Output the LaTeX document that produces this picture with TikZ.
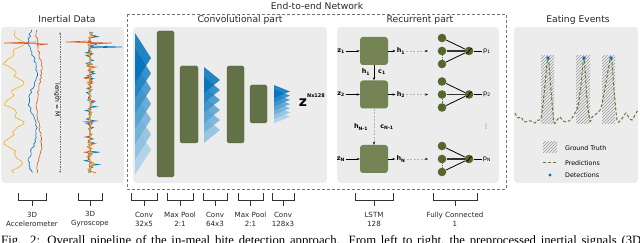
\documentclass[tikz,border=0pt]{standalone}
\usepackage{fontspec}
\setmainfont{DejaVu Sans}
\newfontfamily\capfont{Liberation Serif}
\usepackage{tikz}
\usetikzlibrary{arrows.meta, patterns}
\usepackage{xcolor}
\definecolor{panelgray}{RGB}{236,236,236}
\definecolor{olivebar}{RGB}{99,114,70}
\definecolor{olivebox}{RGB}{116,132,84}
\definecolor{oliveneur}{RGB}{86,102,44}
\definecolor{mblue}{RGB}{0,114,189}
\definecolor{morange}{RGB}{217,83,25}
\definecolor{myellow}{RGB}{237,177,32}
\newcommand{\fsz}[1]{\fontsize{#1}{#1}\selectfont}
\newcommand{\layerbrace}[4]{% x1, x2, name, label
  \draw[brk] (#1,193) -- (#1,200) -- (#2,200) -- (#2,193);
  \draw[brk] ({(#1+#2)/2},200) -- ({(#1+#2)/2},206);
  \node[lbl] (#3) at ({(#1+#2)/2},219.5) {#4};}
\newcommand{\kernelstack}[6]{% x0, x1, top, height, step, last index
  \foreach \k in {#6,...,0} {
    \pgfmathtruncatemacro\shade{100-11*\k}
    \fill[mblue!\shade, fill opacity=0.85] (#1,{#3+\k*#5}) -- (#2,{#3+\k*#5+#4/2}) -- (#1,{#3+\k*#5+#4}) -- cycle;
  }}
\tikzset{
  panel/.style  ={fill=panelgray, rounded corners=4pt},
  netbox/.style ={draw=black!55, dash pattern=on 3pt off 2pt, line width=0.7pt},
  title/.style  ={font=\fsz{9.2}, text=black!85},
  lbl/.style    ={font=\fontsize{7.1}{9}\selectfont, align=center, text=black!85, inner sep=0pt},
  brk/.style    ={draw=black!80, line width=0.8pt},
  bar/.style    ={fill=olivebar, draw=olivebar!85!black, line width=0.3pt, rounded corners=1.5pt},
  lstm/.style   ={fill=olivebox, minimum size=28pt, inner sep=0pt, rounded corners=3pt},
  neur/.style   ={circle, fill=oliveneur, minimum size=8.6pt, inner sep=0pt},
  vlbl/.style   ={font=\fsz{6.5}\bfseries, inner sep=1pt},
  plbl/.style   ={font=\fsz{6.5}, inner sep=1pt},
  flow/.style   ={-{Stealth[length=3pt]}, line width=0.6pt},
  dflow/.style  ={-{Stealth[length=3pt, color=black]}, line width=0.6pt, draw=black!30, dash pattern=on 2pt off 1.5pt},
  fcw/.style    ={line width=0.8pt},
  sig/.style    ={line width=0.6pt},
  lenarr/.style ={{Stealth[length=2.5pt]}-{Stealth[length=2.5pt]}, draw=black!55, line width=0.5pt, dash pattern=on 1.5pt off 1pt},
  hatch/.style  ={pattern=north east lines, pattern color=black!40},
  pred/.style   ={draw=oliveneur!90, line width=1pt, dash pattern=on 3pt off 2pt},
  legt/.style   ={font=\fsz{6.3}, anchor=west, inner sep=0pt},
  capt/.style   ={font=\capfont\fsz{12.7}, inner sep=0pt},
}
\begin{document}
\begin{tikzpicture}[x=1pt, y=-1pt]
  \useasboundingbox (0,0) rectangle (640,243);

  % --- Inertial data ---
  \node[title] (tInertial) at (67,19) {Inertial Data};
  \fill[panel] (1,27) rectangle (124,183);
  \pgfmathsetseed{11}
  \draw[sig, myellow] plot[domain=30:173, samples=60] ({14+7*sin(9*\x+70)+3*sin(27*\x)+1.5*rand}, \x);
  \draw[sig, mblue]   plot[domain=30:173, samples=70] ({33+4*sin(6*\x+20)+1.2*rand}, \x);
  \draw[sig, morange] plot[domain=30:173, samples=70] ({39+2.5*sin(5*\x+100)+1*rand}, \x);
  \draw[sig, morange] (36,42) -- (4,43) -- (48,44) -- (38,45);
  \draw[sig, mblue]   plot[domain=32:173, samples=150] ({90+12*rand*rand*rand}, \x);
  \draw[sig, morange] plot[domain=32:173, samples=150] ({90+9*rand*rand*rand}, \x);
  \draw[sig, myellow] plot[domain=32:173, samples=150] ({90+7*rand*rand*rand}, \x);
  \draw[sig, morange] (90,41) -- (66,42) -- (112,43) -- (90,44);
  \draw[sig, mblue]   (90,46) -- (122,47) -- (88,48);
  \coordinate (lenTop) at (60,32);
  \coordinate (lenBot) at (60,173);
  \draw[lenarr] (lenTop) -- (lenBot);
  \node[font=\fsz{6}, rotate=-90, fill=panelgray, inner sep=0.5pt] (lenM) at (57,100) {length = M};
  \layerbrace{18}{46}{bAcc}{3D\\Accelerometer}
  \layerbrace{78}{102}{bGyr}{3D\\Gyroscope}

  % --- End-to-end network ---
  \node[title] (tNet) at (317,6) {End-to-end Network};
  \draw[netbox] (127,14) rectangle (506,189);

  % --- Convolutional part ---
  \node[title] (tConv) at (240,20) {Convolutional part};
  \fill[panel] (133,27) rectangle (327,183);
  \kernelstack{135}{151}{33}{50}{15.3}{6}
  \filldraw[bar] (157,31) rectangle (174,177);
  \filldraw[bar] (180,66) rectangle (198,143);
  \kernelstack{204}{220}{67}{26}{10}{5}
  \filldraw[bar] (227,66) rectangle (244,143);
  \filldraw[bar] (250,85) rectangle (267,123);
  \kernelstack{274}{290}{85}{13}{4.2}{6}
  \node[font=\fsz{14}\bfseries, inner sep=0pt] (zOut) at (303,103) {z};
  \node[font=\fsz{5}\bfseries, inner sep=0pt] (zDim) at (316,96) {Nx128};
  \layerbrace{131}{157}{bConv1}{Conv\\32x5}
  \layerbrace{167}{193}{bPool1}{Max Pool\\2:1}
  \layerbrace{203}{227}{bConv2}{Conv\\64x3}
  \layerbrace{238}{263}{bPool2}{Max Pool\\2:1}
  \layerbrace{272}{294}{bConv3}{Conv\\128x3}

  % --- Recurrent part ---
  \node[title] (tRec) at (420,20) {Recurrent part};
  \fill[panel] (337,27) rectangle (499,183);
  \node[lstm] (c1) at (374,51)   {};
  \node[lstm] (c2) at (374,94.5) {};
  \node[lstm] (cN) at (374,159)  {};
  \node[vlbl] (z1) at (341,51)   {z\textsubscript{1}};
  \node[vlbl] (z2) at (341,94.5) {z\textsubscript{2}};
  \node[vlbl] (zN) at (341,159)  {z\textsubscript{N}};
  \node[vlbl] (h1) at (401,51)   {h\textsubscript{1}};
  \node[vlbl] (h2) at (401,94.5) {h\textsubscript{2}};
  \node[vlbl] (hN) at (401,159)  {h\textsubscript{N}};
  \coordinate (e1) at (428,51);
  \coordinate (e2) at (428,94.5);
  \coordinate (eN) at (428,159);
  \draw[flow] (z1) -- (c1);
  \draw[flow] (z2) -- (c2);
  \draw[flow] (zN) -- (cN);
  \draw[flow] (c1) -- (h1);
  \draw[flow] (c2) -- (h2);
  \draw[flow] (cN) -- (hN);
  \draw[dflow] (h1) -- (e1);
  \draw[dflow] (h2) -- (e2);
  \draw[dflow] (hN) -- (eN);
  \draw[flow] (c1) -- (c2);
  \draw[dflow] (c2) -- (cN);
  \node[vlbl] (hc1) at (366,72)  {h\textsubscript{1}};
  \node[vlbl] (cc1) at (382,72)  {c\textsubscript{1}};
  \node[vlbl] (hcN) at (361,127) {h\textsubscript{N-1}};
  \node[vlbl] (ccN) at (387,127) {c\textsubscript{N-1}};
  \foreach \r/\y in {1/51, 2/94.5, N/159} {
    \node[neur] (a\r) at (442,{\y-13}) {};
    \node[neur] (m\r) at (442,\y)      {};
    \node[neur] (b\r) at (442,{\y+13}) {};
    \node[neur] (o\r) at (469,\y)      {};
    \node[plbl] (p\r) at (487,\y)      {p\textsubscript{\r}};
    \draw[fcw] (a\r) -- (o\r);
    \draw[fcw, line width=1.4pt, black!80] (m\r) -- (o\r);
    \draw[fcw] (b\r) -- (o\r);
    \draw[densely dotted, line width=0.6pt, black!60] (m\r) -- (b\r);
    \draw[fcw] (o\r) -- (p\r);
    \draw[line width=0.7pt] ([shift={(-3,2.5)}]o\r.center) .. controls ([shift={(1,2.5)}]o\r.center) and ([shift={(-1,-2.5)}]o\r.center) .. ([shift={(3,-2.5)}]o\r.center);
  }
  \node[font=\fsz{6}, inner sep=0pt] (pDots) at (486,127) {⋮};
  \layerbrace{355}{393}{bLstm}{LSTM\\128}
  \layerbrace{433}{477}{bFc}{Fully Connected\\1}

  % --- Eating events ---
  \node[title] (tEat) at (578,20) {Eating Events};
  \fill[panel] (514,27) rectangle (638,183);
  \fill[hatch] (541,56) rectangle (554,124);
  \fill[hatch] (576,56) rectangle (590,124);
  \fill[hatch] (602,56) rectangle (615,124);
  \draw[pred] plot[smooth, tension=0.5] coordinates {(515,113) (518,118) (521,117) (524,122) (528,121) (531,121) (535,123) (538,120) (541,118) (544,95) (548,58) (551,90) (554,122) (557,120) (560,117) (563,121) (566,122) (569,121) (572,118) (575,113) (578,106) (581,85) (584,58) (587,100) (590,121) (592,117) (595,115) (598,112) (601,108) (605,88) (611,58) (614,90) (617,120) (620,121) (623,117) (626,113) (629,118) (632,120) (635,115) (638,110)};
  \fill[mblue] (548,58) circle (1.9);
  \fill[mblue] (584,58) circle (1.9);
  \fill[mblue] (611,58) circle (1.9);
  \fill[hatch] (543,142) rectangle (557,153);
  \draw[pred] (543,163) -- (557,163);
  \fill[mblue] (550,175) circle (1.7);
  \node[legt] (legGT)   at (565,148) {Ground Truth};
  \node[legt] (legPred) at (565,163) {Predictions};
  \node[legt] (legDet)  at (565,175) {Detections};

  % --- caption line ---
  \node[capt, anchor=base west] (figCap) at (1,244.5) {\makebox[640pt][s]{Fig. 2: Overall pipeline of the in-meal bite detection approach. From left to right, the preprocessed inertial signals (3D}};
\end{tikzpicture}
\end{document}
